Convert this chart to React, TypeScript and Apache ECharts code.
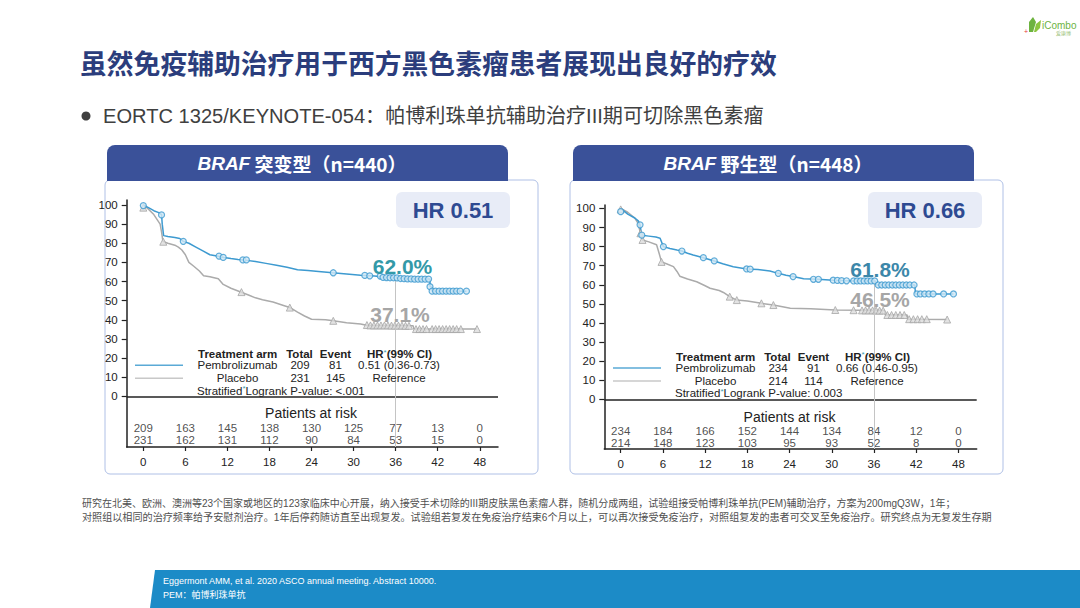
import React, { useEffect, useRef } from 'react';
import * as echarts from 'echarts';

// ---------- DATA ----------
const months = [0, 6, 12, 18, 24, 30, 36, 42, 48];
const survivalTicks = [0, 10, 20, 30, 40, 50, 60, 70, 80, 90, 100];

// BRAF mutant (n=440)
const mutPembroCurve: number[][] = [
  [0, 100], [0.8, 98.5], [1.5, 97], [2.2, 96], [2.6, 95], [2.7, 90], [2.9, 84], [3.5, 83.5], [4.5, 83], [5.2, 82.5],
  [5.7, 81], [6.5, 80], [7.5, 78], [8.5, 76], [9.5, 74], [10.5, 73.3], [11.5, 72.6], [12.5, 72], [13.5, 71.5],
  [14.5, 71.2], [16, 70.5], [17.5, 69.5], [19, 68.5], [20.5, 67.5], [22, 66.2], [23.5, 65.8], [25, 65.3], [27, 64.6],
  [29, 64], [31, 63.3], [33, 62.9], [34.5, 62.3], [36, 62], [37.5, 61.5], [40.9, 61.3], [40.9, 57.5], [41.2, 57],
  [41.2, 55], [46.1, 55],
];
const mutPlaceboCurve: number[][] = [
  [0, 100], [0.5, 98.6], [1.5, 95], [2.4, 90], [2.6, 86], [2.8, 81], [3.5, 80], [4.5, 79], [5, 78], [5.5, 76.5],
  [6, 74], [6.5, 70], [7.2, 68], [8, 65.5], [8.6, 63], [9.5, 62.5], [10.7, 61.5], [11.4, 58.5], [12.5, 56.5],
  [13.8, 54.7], [15, 53], [16, 51.5], [17, 50.5], [18.5, 49.3], [20, 47.5], [21, 46.3], [22, 44], [23, 42], [24, 40.3],
  [26, 40], [27.1, 39.5], [29, 38.5], [31, 37.8], [32, 37.1], [38.5, 36.9], [38.6, 35.2], [47.6, 35.2],
];
const mutPembroCensored: number[][] = [
  [0, 99.7], [2.6, 94.8], [5.7, 81], [10.8, 73.3], [11.4, 72.6], [14.2, 71.3], [14.7, 71.3], [27.1, 64.6], [31.6, 63.2],
  [32.3, 63], [33.8, 62.9], [34.2, 62.2], [34.7, 62.1], [35.2, 62], [35.7, 62], [36.2, 61.9], [36.7, 61.6], [37.2, 61.5],
  [37.7, 61.4], [38.2, 61.4], [38.7, 61.3], [39.2, 61.3], [39.7, 61.3], [40.2, 61.3], [40.7, 61.3], [40.9, 57.3],
  [41.2, 55], [41.7, 55], [42.2, 55], [42.7, 55], [43.2, 55], [43.7, 55], [44.2, 55], [44.7, 55], [45.2, 55], [46.1, 55],
];
const mutPlaceboCensored: number[][] = [
  [0, 98.6], [2.85, 80.8], [14, 54.5], [20.9, 46.4], [27.1, 39.5], [31.9, 37.3], [32.4, 37.1], [32.9, 37.1], [33.4, 37.1],
  [33.9, 37.1], [34.4, 37.1], [34.9, 37.1], [35.4, 37], [35.9, 37], [36.4, 37], [36.9, 37], [37.4, 36.9], [37.9, 36.9],
  [38.9, 35.2], [39.4, 35.2], [39.9, 35.2], [40.4, 35.2], [41.2, 35.2], [41.7, 35.2], [42.2, 35.2], [42.7, 35.2],
  [43.2, 35.2], [43.7, 35.2], [44.2, 35.2], [44.7, 35.2], [45.3, 35.2], [47.6, 35.2],
];
const mutRiskPembro = [209, 163, 145, 138, 130, 125, 77, 13, 0];
const mutRiskPlacebo = [231, 162, 131, 112, 90, 84, 53, 15, 0];

// BRAF wild type (n=448)
const wtPembroCurve: number[][] = [
  [0, 100], [1, 97], [2, 95], [2.5, 93.5], [2.75, 91.4], [2.9, 88], [3, 86], [4, 85.5], [5, 85], [5.6, 84.4], [6.07, 80],
  [7, 79], [8, 78.2], [8.7, 77.7], [9.5, 76.5], [10.3, 75.6], [11.75, 74.2], [13.3, 72.5], [14.5, 71], [16, 69.5],
  [17.9, 68.3], [19.5, 68], [21.2, 67.2], [22.4, 66], [23.5, 65], [24.5, 64.3], [26, 63.2], [28, 62.9], [30.2, 62.4],
  [33, 62], [36.2, 62], [36.3, 60.4], [36.4, 59.9], [41.8, 59.9], [41.9, 55.2], [47.3, 55.2],
];
const wtPlaceboCurve: number[][] = [
  [0, 100], [1, 98], [2, 95], [2.5, 92], [2.8, 87], [3.1, 83.5], [4, 82.5], [5.1, 81], [5.5, 76], [5.8, 72], [6.5, 71],
  [7.5, 69.5], [8, 67], [8.4, 64.5], [9.5, 63], [10.8, 61.6], [12, 59.5], [12.7, 58.2], [14, 57], [14.6, 56],
  [15.5, 53.8], [16.5, 52], [18, 51.5], [20, 50.3], [21.7, 49.4], [23, 48.5], [24.1, 47.7], [27, 47.5], [30.5, 46.8],
  [37.5, 46.5], [37.6, 44.2], [40.7, 44.2], [40.8, 42], [46.4, 41.8],
];
const wtPembroCensored: number[][] = [
  [0, 98.3], [2.75, 91.4], [3.0, 86], [6.07, 80], [8.7, 77.7], [11.75, 74.2], [13.3, 72.5], [17.9, 68.3], [18.4, 68.2],
  [22.4, 66], [24.5, 64.3], [27.4, 62.9], [28.1, 62.9], [30.2, 62.4], [30.8, 62.3], [31.4, 62.2], [32.1, 62.1],
  [33.1, 62], [33.6, 62], [34.1, 62], [34.6, 62], [35.1, 62], [35.6, 62], [36.1, 62], [36.6, 59.9], [37.1, 59.9],
  [37.6, 59.9], [38.1, 59.9], [38.6, 59.9], [39.1, 59.9], [39.6, 59.9], [40.1, 59.9], [40.6, 59.9], [41.1, 59.9],
  [41.7, 59.9], [42.1, 55.2], [42.6, 55.2], [43.2, 55.2], [43.8, 55.2], [44.4, 55.2], [45.9, 55.2], [47.3, 55.2],
];
const wtPlaceboCensored: number[][] = [
  [0, 99.5], [2.8, 87], [3.1, 83.5], [5.8, 72], [15.5, 53.8], [16.5, 52], [20, 50.3], [21.7, 49.4], [30.5, 46.8],
  [33.1, 46.7], [34.3, 46.6], [34.8, 46.6], [35.3, 46.6], [35.8, 46.6], [36.3, 46.5], [36.8, 46.5], [37.3, 46.5],
  [37.9, 44.2], [38.5, 44.2], [39.1, 44.2], [39.7, 44.2], [40.3, 44.2], [41, 42], [41.6, 42], [42.2, 42], [42.8, 42],
  [43.5, 42], [46.4, 41.8],
];
const wtRiskPembro = [234, 184, 166, 152, 144, 134, 84, 12, 0];
const wtRiskPlacebo = [214, 148, 123, 103, 95, 93, 52, 8, 0];

const panelTitles = ['突变型（n=440）', '野生型（n=448）'];
const hrLabels = ['HR 0.51', 'HR 0.66'];
const landmarkPembro = ['62.0%', '61.8%'];
const landmarkPlacebo = ['37.1%', '46.5%'];
const tablePembro = [
  ['Pembrolizumab', '209', '81', '0.51 (0.36-0.73)'],
  ['Pembrolizumab', '234', '91', '0.66 (0.46-0.95)'],
];
const tablePlacebo = [
  ['Placebo', '231', '145', 'Reference'],
  ['Placebo', '214', '114', 'Reference'],
];
const pValues = ['<.001', '0.003'];

const titleText = '虽然免疫辅助治疗用于西方黑色素瘤患者展现出良好的疗效';
const bulletText = 'EORTC 1325/KEYNOTE-054：帕博利珠单抗辅助治疗III期可切除黑色素瘤';
const noteLines = [
  '研究在北美、欧洲、澳洲等23个国家或地区的123家临床中心开展，纳入接受手术切除的III期皮肤黑色素瘤人群，随机分成两组，试验组接受帕博利珠单抗(PEM)辅助治疗，方案为200mgQ3W，1年；',
  '对照组以相同的治疗频率给予安慰剂治疗。1年后停药随访直至出现复发。试验组若复发在免疫治疗结束6个月以上，可以再次接受免疫治疗，对照组复发的患者可交叉至免疫治疗。研究终点为无复发生存期',
];
const refLines = ['Eggermont AMM, et al. 2020 ASCO annual meeting. Abstract 10000.', 'PEM：帕博利珠单抗'];

// ---------- STYLE / LAYOUT ----------
const FL = "'Liberation Sans', 'Noto Sans CJK SC', sans-serif";
const FC = "'Noto Sans CJK SC', 'Liberation Sans', sans-serif";
const BLUE = '#3D9AD0';
const GRAY = '#ABABAB';
const NAVY = '#2B3D7C';

const layouts = [
  {
    grid: { left: 126.7, top: 200, width: 371.3, height: 247 }, xr: [-2.37, 50.6], yr: [-26.4, 102.6],
    box: [105, 180, 433, 294], header: [107, 145, 401, 36], headerTextX: 302,
    hr: [396, 192, 114, 36], pct1: [402.5, 266, '#3399A8'], pct2: [400, 314],
    table: { dx: 0, dy: 0 }, riskTitle: [311, 413], vTop: 62,
  },
  {
    grid: { left: 604.3, top: 205, width: 372.4, height: 244 }, xr: [-2.33, 50.6], yr: [-26.0, 101.8],
    box: [570, 180, 433, 294], header: [573, 145, 401, 36], headerTextX: 768,
    hr: [868, 192, 114, 36], pct1: [880, 269, '#3C87A9'], pct2: [880, 299],
    table: { dx: 478, dy: 2.7 }, riskTitle: [789.5, 417.3], vTop: 61.6,
  },
];

function txt(x: number, y: number, text: string, o: any = {}) {
  return {
    type: 'text', x, y, silent: true, z: o.z ?? 10,
    style: {
      text, fontSize: o.size ?? 12, fontWeight: o.weight ?? 'normal', fontFamily: o.family ?? FL,
      fontStyle: o.italic ? 'italic' : 'normal', fill: o.color ?? '#222',
      align: o.align ?? 'left', textAlign: o.align ?? 'left',
      verticalAlign: 'middle', textVerticalAlign: 'middle', rich: o.rich,
    },
  };
}

function buildOption() {
  const graphic: any[] = [];
  // Title + bullet
  graphic.push(txt(80, 62, titleText, { size: 26.8, weight: 'bold', family: FC, color: NAVY }));
  graphic.push({ type: 'circle', shape: { cx: 86, cy: 116, r: 4.5 }, style: { fill: '#404040' }, silent: true });
  graphic.push(txt(103, 116, bulletText, { size: 20.1, color: '#404040' }));

  layouts.forEach((L, i) => {
    const [bx, by, bw, bh] = L.box;
    graphic.push({ type: 'rect', shape: { x: bx, y: by, width: bw, height: bh, r: 5 }, style: { fill: 'transparent', stroke: '#AFC0E6', lineWidth: 1 }, silent: true });
    const [hx, hy, hw, hh] = L.header;
    graphic.push({ type: 'rect', shape: { x: hx, y: hy, width: hw, height: hh, r: [8, 8, 0, 0] }, style: { fill: '#3A5199' }, silent: true });
    graphic.push({
      type: 'text', x: L.headerTextX, y: hy + hh / 2, silent: true, z: 10,
      style: {
        text: '{i|BRAF} ' + panelTitles[i], fill: '#fff', fontSize: 19, fontWeight: 'bold', fontFamily: FC,
        align: 'center', textAlign: 'center', verticalAlign: 'middle', textVerticalAlign: 'middle',
        rich: { i: { fontStyle: 'italic', fontWeight: 'bold', fontSize: 19, fill: '#fff', fontFamily: FL } },
      },
    });
    const [rx, ry, rw, rh] = L.hr;
    graphic.push({ type: 'rect', shape: { x: rx, y: ry, width: rw, height: rh, r: 6 }, style: { fill: '#E8ECF7' }, silent: true });
    graphic.push(txt(rx + rw / 2, ry + rh / 2, hrLabels[i], { size: 22, weight: 'bold', color: '#2E4A92', align: 'center' }));
    graphic.push(txt(L.pct1[0] as number, L.pct1[1] as number, landmarkPembro[i], { size: 21, weight: 'bold', color: L.pct1[2], align: 'center', z: 20 }));
    graphic.push(txt(L.pct2[0], L.pct2[1], landmarkPlacebo[i], { size: 21, weight: 'bold', color: '#A6A6A6', align: 'center', z: 20 }));

    // embedded table
    const dx = L.table.dx, dy = L.table.dy;
    const fs = 11.5;
    const sup = { s: { fontSize: 8, verticalAlign: 'top', fill: '#3A9AB0', fontFamily: FL } };
    graphic.push(txt(198 + dx, 354 + dy, 'Treatment arm', { size: fs, weight: 'bold' }));
    graphic.push(txt(299.5 + dx, 354 + dy, 'Total', { size: fs, weight: 'bold', align: 'center' }));
    graphic.push(txt(335.5 + dx, 354 + dy, 'Event', { size: fs, weight: 'bold', align: 'center' }));
    graphic.push(txt(367 + dx, 354 + dy, 'HR{s|*}(99% CI)', { size: fs, weight: 'bold', rich: sup }));
    const rows = [tablePembro[i], tablePlacebo[i]];
    rows.forEach((r, k) => {
      const y = (k === 0 ? 365.3 : 378.3) + dy;
      graphic.push(txt(237.5 + dx, y, r[0], { size: fs, align: 'center' }));
      graphic.push(txt(300 + dx, y, r[1], { size: fs, align: 'center' }));
      graphic.push(txt(335.5 + dx, y, r[2], { size: fs, align: 'center' }));
      graphic.push(txt(399 + dx, y, r[3], { size: fs, align: 'center' }));
      graphic.push({ type: 'line', shape: { x1: 135 + dx, y1: y, x2: 183 + dx, y2: y }, style: { stroke: k === 0 ? '#5AAAD6' : '#C8C8C8', lineWidth: 1.5 }, silent: true });
    });
    graphic.push(txt(197 + dx, 390.7 + dy, 'Stratified{s|*}Logrank P-value: ' + pValues[i], { size: fs, rich: sup }));
    graphic.push(txt(L.riskTitle[0], L.riskTitle[1], 'Patients at risk', { size: 14, align: 'center' }));
  });

  // footnote
  graphic.push(txt(82, 503, noteLines[0], { size: 10, color: '#505050' }));
  graphic.push(txt(82, 517, noteLines[1], { size: 10.1, color: '#505050' }));
  // bottom bar
  graphic.push({ type: 'polygon', shape: { points: [[155, 570], [1080, 570], [1080, 608], [150, 608]] }, style: { fill: '#1C8BC7' }, silent: true });
  graphic.push(txt(163, 581, refLines[0], { size: 9, color: '#fff' }));
  graphic.push(txt(163, 595, refLines[1], { size: 9, color: '#fff' }));
  // logo
  graphic.push({ type: 'polygon', shape: { points: [[1029, 32], [1029, 22], [1033, 17], [1036, 22], [1033, 32]] }, style: { fill: '#6DB33F' }, silent: true });
  graphic.push({ type: 'polygon', shape: { points: [[1034, 32], [1036, 24], [1041, 20], [1040, 28], [1036, 32]] }, style: { fill: '#8CC63F' }, silent: true });
  graphic.push(txt(1026, 31, '+', { size: 7, color: '#E53935', align: 'center' }));
  graphic.push(txt(1042, 25, 'iCombo', { size: 10, color: '#6DB33F' }));
  graphic.push(txt(1056, 32, '爱康博', { size: 5, color: '#9ABF7A', family: FC }));

  const grids: any[] = [], xAxes: any[] = [], yAxes: any[] = [], series: any[] = [];
  const data = [
    { pc: mutPembroCurve, cc: mutPlaceboCurve, pcs: mutPembroCensored, ccs: mutPlaceboCensored, rp: mutRiskPembro, rc: mutRiskPlacebo },
    { pc: wtPembroCurve, cc: wtPlaceboCurve, pcs: wtPembroCensored, ccs: wtPlaceboCensored, rp: wtRiskPembro, rc: wtRiskPlacebo },
  ];
  layouts.forEach((L, i) => {
    grids.push({ ...L.grid, containLabel: false });
    const axisLine = { show: true, onZero: false, lineStyle: { color: '#222', width: 1.5 } };
    xAxes.push({
      type: 'value', gridIndex: i, min: L.xr[0], max: L.xr[1], axisLine,
      axisTick: { show: true, customValues: months, length: 4, lineStyle: { color: '#222', width: 1.2 } },
      axisLabel: { customValues: months, margin: 9, fontSize: 11.5, color: '#222', fontFamily: FL },
      splitLine: { show: false },
    });
    yAxes.push({
      type: 'value', gridIndex: i, min: L.yr[0], max: L.yr[1], axisLine,
      axisTick: { show: true, customValues: survivalTicks, length: 5, lineStyle: { color: '#222', width: 1.2 } },
      axisLabel: { customValues: survivalTicks, margin: 9, fontSize: 11.5, color: '#222', fontFamily: FL },
      splitLine: { show: false },
    });
    const d = data[i];
    const common = { xAxisIndex: i, yAxisIndex: i, silent: true };
    series.push({
      ...common, type: 'line', data: d.cc, symbol: 'none', showSymbol: false, lineStyle: { color: GRAY, width: 1.5 }, z: 2,
      markLine: {
        silent: true, symbol: ['none', 'none'], label: { show: false },
        data: [
          { yAxis: 0, lineStyle: { color: '#222', width: 1.5, type: 'solid' } },
          [{ coord: [36, L.vTop], lineStyle: { color: '#C4C4C4', width: 1, type: 'solid' } }, { coord: [36, L.yr[0]] }],
        ],
      },
    });
    series.push({ ...common, type: 'line', data: d.pc, symbol: 'none', showSymbol: false, lineStyle: { color: BLUE, width: 1.5 }, z: 3 });
    series.push({ ...common, type: 'scatter', data: d.ccs, symbol: 'triangle', symbolSize: 7, itemStyle: { color: '#DCDCDC', borderColor: '#A6A6A6', borderWidth: 1 }, z: 4 });
    series.push({ ...common, type: 'scatter', data: d.pcs, symbol: 'circle', symbolSize: 6, itemStyle: { color: '#CFE7F5', borderColor: BLUE, borderWidth: 1.2 }, z: 5 });
    [[d.rp, -16.5], [d.rc, -22.7]].forEach(([arr, yy]: any) => {
      series.push({
        ...common, type: 'scatter', symbolSize: 1, itemStyle: { color: 'transparent' },
        data: arr.map((n: number, k: number) => [months[k], yy, n]),
        label: { show: true, position: 'inside', formatter: (p: any) => String(p.value[2]), fontSize: 11.5, color: '#222', fontFamily: FL },
      });
    });
  });

  return { animation: false, backgroundColor: '#fff', grid: grids, xAxis: xAxes, yAxis: yAxes, series, graphic: { elements: graphic } };
}

export default function App() {
  const ref = useRef<HTMLDivElement>(null);
  useEffect(() => {
    const chart = echarts.init(ref.current!, null, { renderer: 'svg' });
    chart.setOption(buildOption() as any);
    return () => chart.dispose();
  }, []);
  return <div ref={ref} style={{ position: 'fixed', left: 0, top: 0, width: 1080, height: 608 }} />;
}
